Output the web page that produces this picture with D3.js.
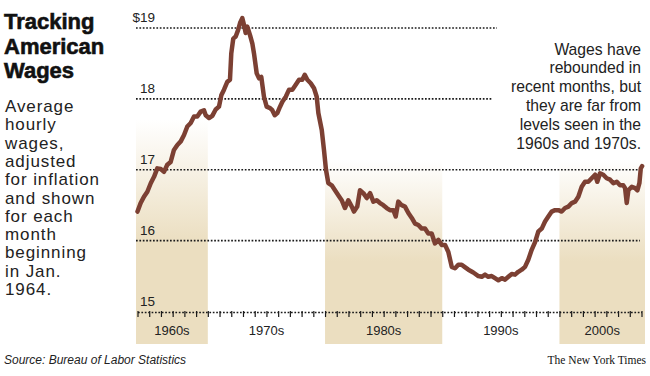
<!DOCTYPE html>
<html>
<head>
<meta charset="utf-8">
<script src="https://cdn.jsdelivr.net/npm/d3@7"></script>
<style>
  body { margin: 0; background: #fff; }
  svg { display: block; font-family: "Liberation Sans", Arial, Helvetica, sans-serif; }
</style>
</head>
<body>
<svg id="chart" width="650" height="376"></svg>
<script>
// Average hourly wages, inflation adjusted, Jan. 1964 onward
const years = [
  1964.00, 1964.27, 1964.55, 1964.84, 1965.13, 1965.41, 1965.69, 1965.98, 1966.26, 1966.54,
  1966.83, 1967.11, 1967.40, 1967.69, 1967.97, 1968.25, 1968.54, 1968.82, 1969.10, 1969.39,
  1969.67, 1969.82, 1970.10, 1970.38, 1970.67, 1970.95, 1971.15, 1971.38, 1971.66, 1971.89,
  1972.00, 1972.17, 1972.38, 1972.58, 1972.75, 1972.94, 1973.09, 1973.23, 1973.37, 1973.60,
  1973.80, 1973.94, 1974.17, 1974.37, 1974.56, 1974.79, 1975.02, 1975.31, 1975.50, 1975.71,
  1975.93, 1976.16, 1976.36, 1976.65, 1976.93, 1977.21, 1977.50, 1977.78, 1978.06, 1978.27,
  1978.49, 1978.78, 1979.06, 1979.29, 1979.43, 1979.72, 1979.91, 1980.08, 1980.28, 1980.57,
  1980.85, 1981.13, 1981.42, 1981.70, 1981.99, 1982.28, 1982.47, 1982.75, 1982.98, 1983.27,
  1983.56, 1983.84, 1984.12, 1984.41, 1984.69, 1984.97, 1985.26, 1985.54, 1985.83, 1986.03,
  1986.25, 1986.54, 1986.82, 1987.11, 1987.40, 1987.68, 1987.96, 1988.25, 1988.53, 1988.81,
  1989.10, 1989.38, 1989.67, 1989.96, 1990.24, 1990.52, 1990.81, 1991.09, 1991.37, 1991.66,
  1991.90, 1992.23, 1992.65, 1993.08, 1993.37, 1993.65, 1993.93, 1994.22, 1994.50, 1994.79,
  1995.08, 1995.36, 1995.64, 1995.93, 1996.21, 1996.49, 1996.78, 1997.06, 1997.34, 1997.63,
  1997.92, 1998.20, 1998.49, 1998.77, 1999.05, 1999.34, 1999.62, 1999.91, 2000.19, 2000.48,
  2000.76, 2001.05, 2001.33, 2001.61, 2001.90, 2002.18, 2002.46, 2002.75, 2003.04, 2003.23,
  2003.46, 2003.74, 2004.03, 2004.32, 2004.60, 2004.89, 2005.17, 2005.45, 2005.60, 2005.74,
  2005.88, 2006.17, 2006.45, 2006.65, 2006.82, 2006.94, 2007.05
];
const wages = [
  16.41, 16.53, 16.62, 16.69, 16.81, 16.90, 17.02, 17.01, 16.97, 17.07,
  17.11, 17.28, 17.35, 17.40, 17.49, 17.61, 17.66, 17.75, 17.75, 17.82,
  17.84, 17.77, 17.73, 17.76, 17.85, 17.89, 18.05, 18.13, 18.24, 18.27,
  18.64, 18.85, 18.88, 18.97, 19.07, 19.14, 19.04, 18.93, 19.02, 18.90,
  18.78, 18.64, 18.36, 18.29, 18.31, 18.03, 17.89, 17.87, 17.84, 17.77,
  17.80, 17.89, 17.96, 18.03, 18.13, 18.13, 18.20, 18.27, 18.27, 18.34,
  18.27, 18.22, 18.15, 18.03, 17.80, 17.56, 17.28, 17.00, 16.81, 16.78,
  16.71, 16.64, 16.57, 16.46, 16.57, 16.48, 16.41, 16.48, 16.71, 16.67,
  16.60, 16.67, 16.55, 16.57, 16.53, 16.50, 16.46, 16.43, 16.43, 16.34,
  16.55, 16.50, 16.48, 16.39, 16.32, 16.24, 16.22, 16.17, 16.17, 16.10,
  16.10, 15.96, 16.01, 15.94, 15.94, 15.84, 15.63, 15.61, 15.66, 15.66,
  15.63, 15.59, 15.55, 15.50, 15.49, 15.52, 15.49, 15.50, 15.47, 15.44,
  15.47, 15.45, 15.49, 15.53, 15.52, 15.56, 15.59, 15.63, 15.73, 15.87,
  15.98, 16.13, 16.17, 16.27, 16.34, 16.41, 16.43, 16.43, 16.41, 16.46,
  16.48, 16.53, 16.55, 16.62, 16.76, 16.83, 16.83, 16.88, 16.93, 16.83,
  16.95, 16.93, 16.88, 16.86, 16.81, 16.83, 16.78, 16.78, 16.74, 16.53,
  16.71, 16.76, 16.74, 16.71, 16.81, 17.02, 17.05
];

const wageTicks = [15, 16, 17, 18, 19];
const wageTickLabels = ["15", "16", "17", "18", "$19"];
const decadeStarts = [1960, 1970, 1980, 1990, 2000];
const decadeLabels = ["1960s", "1970s", "1980s", "1990s", "2000s"];
const shaded = [true, false, true, false, true];

const titleLines = ["Tracking", "American", "Wages"];
const descLines = ["Average", "hourly", "wages,", "adjusted", "for inflation", "and shown",
  "for each", "month", "beginning", "in Jan.", "1964."];
const noteLines = ["Wages have", "rebounded in", "recent months, but", "they are far from",
  "levels seen in the", "1960s and 1970s."];
const sourceText = "Source: Bureau of Labor Statistics";
const creditText = "The New York Times";

// layout
const plotLeft = 136, plotRight = 645;
const axisY = 312, bandBottom = 344;
const bandTop = { "1960s": 120, "1980s": 160, "2000s": 160 };
const gridEnd = { 16: 640, 17: 640, 18: 493, 19: 497 };
const bandColor = "#ebdec0";
const lineColor = "#7c4033";

const svg = d3.select("#chart");

const x = d3.scaleLinear().domain([1964, 2007]).range([137.5, 641.5]);
const y = d3.scaleLinear().domain([15, 19]).range([311.5, 28]);

// gradient for the decade bands
const grad = svg.append("defs").append("linearGradient")
  .attr("id", "bandFade")
  .attr("x1", 0).attr("y1", 0).attr("x2", 0).attr("y2", 1);
grad.append("stop").attr("offset", 0).attr("stop-color", bandColor).attr("stop-opacity", 0);
grad.append("stop").attr("offset", 0.55).attr("stop-color", bandColor).attr("stop-opacity", 1);
grad.append("stop").attr("offset", 1).attr("stop-color", bandColor).attr("stop-opacity", 1);

const decades = decadeStarts.map((s, i) => ({
  label: decadeLabels[i],
  shaded: shaded[i],
  x0: Math.max(plotLeft, x(s)),
  x1: Math.min(plotRight, x(s + 10))
}));

svg.append("g").selectAll("rect")
  .data(decades.filter(d => d.shaded))
  .join("rect")
  .attr("x", d => d.x0)
  .attr("width", d => d.x1 - d.x0)
  .attr("y", d => bandTop[d.label])
  .attr("height", d => bandBottom - bandTop[d.label])
  .attr("fill", "url(#bandFade)");

// dotted gridlines
svg.append("g").selectAll("line")
  .data(wageTicks.filter(v => v > 15))
  .join("line")
  .attr("x1", plotLeft)
  .attr("x2", d => gridEnd[d])
  .attr("y1", d => y(d))
  .attr("y2", d => y(d))
  .attr("stroke", "#1a1a1a")
  .attr("stroke-width", 1.7)
  .attr("stroke-dasharray", "1.7,1.7");

svg.append("g").selectAll("text")
  .data(wageTicks)
  .join("text")
  .attr("x", 155)
  .attr("y", d => y(d) - 6)
  .attr("text-anchor", "end")
  .style("font-size", "13.5px")
  .attr("fill", "#222")
  .text((d, i) => wageTickLabels[i]);

// year axis with a tick for each year
const xAxis = svg.append("g")
  .attr("transform", `translate(0, ${axisY})`)
  .call(d3.axisBottom(x)
    .tickValues(d3.range(1964, 2008))
    .tickSize(5)
    .tickSizeOuter(0)
    .tickFormat(""));
xAxis.select(".domain")
  .attr("stroke", "#1a1a1a")
  .attr("stroke-width", 1.7)
  .attr("stroke-dasharray", "1.7,1.7");
xAxis.selectAll(".tick line")
  .attr("stroke", "#1a1a1a")
  .attr("stroke-width", 1.2)
  .attr("y1", -1);

// decade labels
svg.append("g").selectAll("text")
  .data(decades)
  .join("text")
  .attr("x", d => (d.x0 + d.x1) / 2)
  .attr("y", 335)
  .attr("text-anchor", "middle")
  .style("font-size", "13px")
  .attr("fill", "#222")
  .text(d => d.label);

// wage line
const series = years.map((yr, i) => ({ year: yr, wage: wages[i] }));
svg.append("path")
  .datum(series)
  .attr("fill", "none")
  .attr("stroke", lineColor)
  .attr("stroke-width", 4.5)
  .attr("stroke-linejoin", "round")
  .attr("stroke-linecap", "round")
  .attr("d", d3.line()
    .x(d => x(d.year))
    .y(d => y(d.wage))
  );

// title and description
svg.append("g").selectAll("text")
  .data(titleLines)
  .join("text")
  .attr("x", 4)
  .attr("y", (d, i) => 29 + i * 24.5)
  .style("font-size", "22px")
  .style("font-weight", "bold")
  .attr("fill", "#111")
  .attr("stroke", "#111")
  .attr("stroke-width", 0.6)
  .text(d => d);

svg.append("g").selectAll("text")
  .data(descLines)
  .join("text")
  .attr("x", 5)
  .attr("y", (d, i) => 112 + i * 18.3)
  .style("font-size", "17px")
  .style("letter-spacing", "0.9px")
  .attr("fill", "#222")
  .text(d => d);

// annotation
svg.append("g").selectAll("text")
  .data(noteLines)
  .join("text")
  .attr("x", 641)
  .attr("y", (d, i) => 54.5 + i * 18.9)
  .attr("text-anchor", "end")
  .style("font-size", "15.7px")
  .attr("fill", "#222")
  .text(d => d);

// footer
svg.append("text")
  .attr("x", 4)
  .attr("y", 364)
  .style("font-size", "12px")
  .style("font-style", "italic")
  .attr("fill", "#222")
  .text(sourceText);

svg.append("text")
  .attr("x", 646)
  .attr("y", 364)
  .attr("text-anchor", "end")
  .style("font-family", "'Liberation Serif', 'Times New Roman', serif")
  .style("font-size", "11.5px")
  .attr("fill", "#111")
  .text(creditText);
</script>
</body>
</html>
